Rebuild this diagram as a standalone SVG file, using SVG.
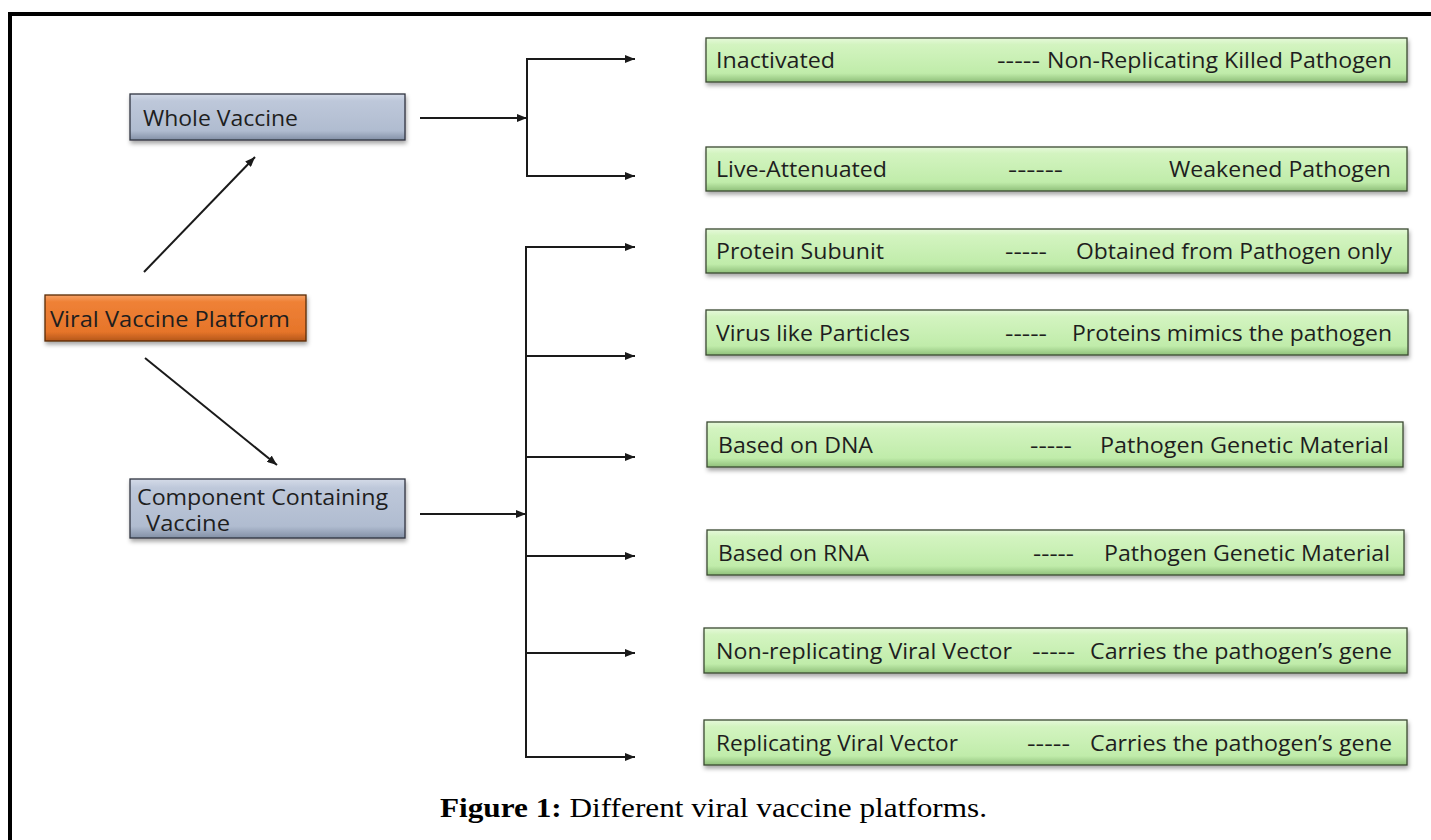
<svg xmlns="http://www.w3.org/2000/svg" width="1431" height="840" viewBox="0 0 1431 840">
<style>
.t{font-family:"Open Sans","Liberation Sans",sans-serif;font-size:22px;fill:#1e1e1e}
.s{font-size:21px}
.c{stroke:#1a1a1a;stroke-width:2;fill:none}
.g{fill:url(#gg);stroke:#3b4a33;stroke-width:1.3}
.b{fill:url(#gb);stroke:#2e3440;stroke-width:1.3}
.o{fill:url(#go);stroke:#5a2a08;stroke-width:1.3}
.cap{font-family:"Liberation Serif","Times New Roman",serif;font-size:27px;fill:#000}
</style>
<defs>
<linearGradient id="gg" x1="0" y1="0" x2="0" y2="1">
<stop offset="0" stop-color="#e6f9da"/><stop offset="0.15" stop-color="#d3f4c0"/><stop offset="0.8" stop-color="#c0ecaa"/><stop offset="1" stop-color="#8fbf7a"/>
</linearGradient>
<linearGradient id="gb" x1="0" y1="0" x2="0" y2="1">
<stop offset="0" stop-color="#d4dbe8"/><stop offset="0.15" stop-color="#bec8da"/><stop offset="0.8" stop-color="#b0bcd0"/><stop offset="1" stop-color="#8390a6"/>
</linearGradient>
<linearGradient id="go" x1="0" y1="0" x2="0" y2="1">
<stop offset="0" stop-color="#f6a266"/><stop offset="0.15" stop-color="#ef8136"/><stop offset="0.8" stop-color="#e6752a"/><stop offset="1" stop-color="#b4561a"/>
</linearGradient>
<filter id="sh" x="-5%" y="-20%" width="110%" height="160%">
<feDropShadow dx="1" dy="3" stdDeviation="2" flood-color="#000" flood-opacity="0.35"/>
</filter>
<marker id="ah" viewBox="0 0 10 8" refX="10" refY="4" markerWidth="10" markerHeight="8" markerUnits="userSpaceOnUse" orient="auto">
<path d="M0,0 L10,4 L0,8 Z" fill="#1a1a1a"/>
</marker>
</defs>
<rect width="1431" height="840" fill="#fff"/>
<g id="frame">
<line x1="8" y1="14" x2="1431" y2="14" stroke="#000" stroke-width="4"/>
<line x1="10" y1="12" x2="10" y2="840" stroke="#000" stroke-width="4"/>
</g>

<g id="connectors">
<line class="c" x1="144" y1="272" x2="255" y2="157" marker-end="url(#ah)"/>
<line class="c" x1="145" y1="358" x2="277" y2="465" marker-end="url(#ah)"/>
<line class="c" x1="420" y1="118" x2="527" y2="118" marker-end="url(#ah)"/>
<line class="c" x1="527" y1="58" x2="527" y2="177"/>
<line class="c" x1="526" y1="59" x2="635" y2="59" marker-end="url(#ah)"/>
<line class="c" x1="526" y1="176" x2="635" y2="176" marker-end="url(#ah)"/>
<line class="c" x1="420" y1="514" x2="526" y2="514" marker-end="url(#ah)"/>
<line class="c" x1="526" y1="246" x2="526" y2="758"/>
<line class="c" x1="525" y1="247" x2="635" y2="247" marker-end="url(#ah)"/>
<line class="c" x1="526" y1="356" x2="635" y2="356" marker-end="url(#ah)"/>
<line class="c" x1="526" y1="457" x2="635" y2="457" marker-end="url(#ah)"/>
<line class="c" x1="526" y1="556" x2="635" y2="556" marker-end="url(#ah)"/>
<line class="c" x1="526" y1="653" x2="635" y2="653" marker-end="url(#ah)"/>
<line class="c" x1="525" y1="757" x2="635" y2="757" marker-end="url(#ah)"/>
</g>

<g id="whole">
<rect class="b" x="130" y="94" width="275" height="46" filter="url(#sh)"/>
<text class="t" x="143" y="126" textLength="155" lengthAdjust="spacingAndGlyphs">Whole Vaccine</text>
</g>
<g id="platform">
<rect class="o" x="45" y="295" width="261" height="46" filter="url(#sh)"/>
<text class="t" x="50" y="327" textLength="240" lengthAdjust="spacingAndGlyphs">Viral Vaccine Platform</text>
</g>
<g id="component">
<rect class="b" x="130" y="479" width="275" height="59" filter="url(#sh)"/>
<text class="t s" x="137" y="505" textLength="251" lengthAdjust="spacingAndGlyphs">Component Containing</text>
<text class="t s" x="146" y="531" textLength="84" lengthAdjust="spacingAndGlyphs">Vaccine</text>
</g>

<g id="inactivated">
<rect class="g" x="706" y="38" width="701" height="44" filter="url(#sh)"/>
<text class="t" x="716" y="68" textLength="119" lengthAdjust="spacingAndGlyphs">Inactivated</text>
<text class="t" x="997" y="68" textLength="43" lengthAdjust="spacingAndGlyphs">-----</text>
<text class="t" x="1047" y="68" textLength="345" lengthAdjust="spacingAndGlyphs">Non-Replicating Killed Pathogen</text>
</g>
<g id="live">
<rect class="g" x="706" y="147" width="701" height="44" filter="url(#sh)"/>
<text class="t" x="716" y="177" textLength="171" lengthAdjust="spacingAndGlyphs">Live-Attenuated</text>
<text class="t" x="1008" y="177" textLength="55" lengthAdjust="spacingAndGlyphs">------</text>
<text class="t" x="1169" y="177" textLength="222" lengthAdjust="spacingAndGlyphs">Weakened Pathogen</text>
</g>
<g id="protein">
<rect class="g" x="706" y="229" width="702" height="44" filter="url(#sh)"/>
<text class="t" x="716" y="259" textLength="168" lengthAdjust="spacingAndGlyphs">Protein Subunit</text>
<text class="t" x="1005" y="259" textLength="42" lengthAdjust="spacingAndGlyphs">-----</text>
<text class="t" x="1076" y="259" textLength="316" lengthAdjust="spacingAndGlyphs">Obtained from Pathogen only</text>
</g>
<g id="vlp">
<rect class="g" x="706" y="310" width="702" height="45" filter="url(#sh)"/>
<text class="t" x="716" y="341" textLength="194" lengthAdjust="spacingAndGlyphs">Virus like Particles</text>
<text class="t" x="1005" y="341" textLength="42" lengthAdjust="spacingAndGlyphs">-----</text>
<text class="t" x="1072" y="341" textLength="320" lengthAdjust="spacingAndGlyphs">Proteins mimics the pathogen</text>
</g>
<g id="dna">
<rect class="g" x="707" y="422" width="696" height="45" filter="url(#sh)"/>
<text class="t" x="718" y="453" textLength="155" lengthAdjust="spacingAndGlyphs">Based on DNA</text>
<text class="t" x="1030" y="453" textLength="42" lengthAdjust="spacingAndGlyphs">-----</text>
<text class="t" x="1100" y="453" textLength="289" lengthAdjust="spacingAndGlyphs">Pathogen Genetic Material</text>
</g>
<g id="rna">
<rect class="g" x="707" y="530" width="697" height="45" filter="url(#sh)"/>
<text class="t" x="718" y="561" textLength="151" lengthAdjust="spacingAndGlyphs">Based on RNA</text>
<text class="t" x="1033" y="561" textLength="41" lengthAdjust="spacingAndGlyphs">-----</text>
<text class="t" x="1104" y="561" textLength="286" lengthAdjust="spacingAndGlyphs">Pathogen Genetic Material</text>
</g>
<g id="nonrep">
<rect class="g" x="704" y="628" width="703" height="45" filter="url(#sh)"/>
<text class="t" x="716" y="659" textLength="296" lengthAdjust="spacingAndGlyphs">Non-replicating Viral Vector</text>
<text class="t" x="1032" y="659" textLength="43" lengthAdjust="spacingAndGlyphs">-----</text>
<text class="t" x="1090" y="659" textLength="302" lengthAdjust="spacingAndGlyphs">Carries the pathogen’s gene</text>
</g>
<g id="rep">
<rect class="g" x="704" y="720" width="703" height="45" filter="url(#sh)"/>
<text class="t" x="716" y="751" textLength="242" lengthAdjust="spacingAndGlyphs">Replicating Viral Vector</text>
<text class="t" x="1027" y="751" textLength="43" lengthAdjust="spacingAndGlyphs">-----</text>
<text class="t" x="1090" y="751" textLength="302" lengthAdjust="spacingAndGlyphs">Carries the pathogen’s gene</text>
</g>

<g id="caption">
<text class="cap" x="440" y="817" textLength="547" lengthAdjust="spacingAndGlyphs"><tspan font-weight="bold">Figure 1:</tspan> Different viral vaccine platforms.</text>
</g>
</svg>
